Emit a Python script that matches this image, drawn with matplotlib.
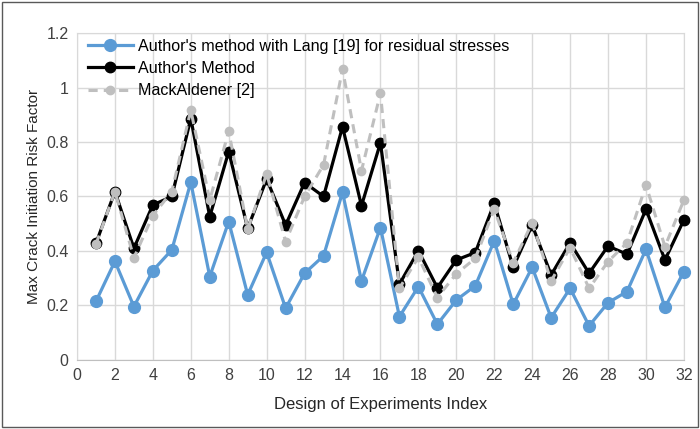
import matplotlib.pyplot as plt
from matplotlib.patches import Rectangle
from matplotlib.ticker import FuncFormatter

plt.rcParams['font.family'] = ['Liberation Sans', 'DejaVu Sans']

doe_index = list(range(1, 33))

lang_residual = [0.215, 0.362, 0.196, 0.328, 0.404, 0.652, 0.306, 0.508, 0.239, 0.395, 0.19,
                 0.318, 0.382, 0.615, 0.29, 0.486, 0.159, 0.269, 0.131, 0.22, 0.272,
                 0.437, 0.204, 0.34, 0.155, 0.263, 0.125, 0.21, 0.251, 0.406, 0.193, 0.324]

authors_method = [0.428, 0.618, 0.41, 0.569, 0.6, 0.886, 0.526, 0.765, 0.483, 0.664, 0.495,
                  0.651, 0.6, 0.856, 0.566, 0.797, 0.278, 0.401, 0.265, 0.367, 0.394,
                  0.575, 0.34, 0.495, 0.312, 0.43, 0.318, 0.418, 0.388, 0.553, 0.367, 0.514]

mack_aldener = [0.425, 0.618, 0.375, 0.53, 0.618, 0.917, 0.587, 0.84, 0.48, 0.683, 0.434,
                0.6, 0.716, 1.067, 0.695, 0.979, 0.263, 0.377, 0.229, 0.316, 0.373,
                0.553, 0.357, 0.504, 0.29, 0.412, 0.263, 0.361, 0.43, 0.642, 0.416, 0.587]

fig = plt.figure(figsize=(7, 4.29), dpi=100)
ax = fig.add_axes([0.11, 0.161, 0.867, 0.762])

ax.plot(doe_index, lang_residual, color='#5B9BD5', lw=2.3, marker='o', ms=8.5,
        label="Author's method with Lang [19] for residual stresses", zorder=3, clip_on=False)
ax.plot(doe_index, authors_method, color='black', lw=2.3, marker='o', ms=7.5,
        label="Author's Method", zorder=4, clip_on=False)
ax.plot(doe_index, mack_aldener, color='#BFBFBF', lw=2.2, ls=(0, (3, 2)), marker='o', ms=6,
        label='MackAldener [2]', zorder=5, clip_on=False)

ax.set_xlim(0, 32)
ax.set_ylim(0, 1.2)
ax.set_xticks(range(0, 33, 2))
ax.set_yticks([0, 0.2, 0.4, 0.6, 0.8, 1.0, 1.2])
ax.yaxis.set_major_formatter(FuncFormatter(lambda v, p: f'{v:g}'))
ax.grid(True, color='#D9D9D9', lw=1)
ax.set_axisbelow(True)
for side in ax.spines.values():
    side.set_color('#D9D9D9')
ax.spines['bottom'].set_color('#BFBFBF')
ax.tick_params(length=0, labelsize=11.5, colors='#404040', pad=6)
ax.set_xlabel('Design of Experiments Index', fontsize=12, color='#262626', labelpad=10)
ax.set_ylabel('Max Crack Initiation Risk Factor', fontsize=11, color='#262626')

ax.legend(loc='upper left', bbox_to_anchor=(0.002, 1.012), frameon=False, fontsize=11.6,
          handlelength=2.8, borderaxespad=0.2, labelspacing=0.45, handletextpad=0.3)

# thin border round the whole figure
fig.patches.append(Rectangle((0.003, 0.005), 0.994, 0.99, transform=fig.transFigure,
                             fill=False, edgecolor='#595959', lw=1))

fig.savefig('out.png', dpi=100)
